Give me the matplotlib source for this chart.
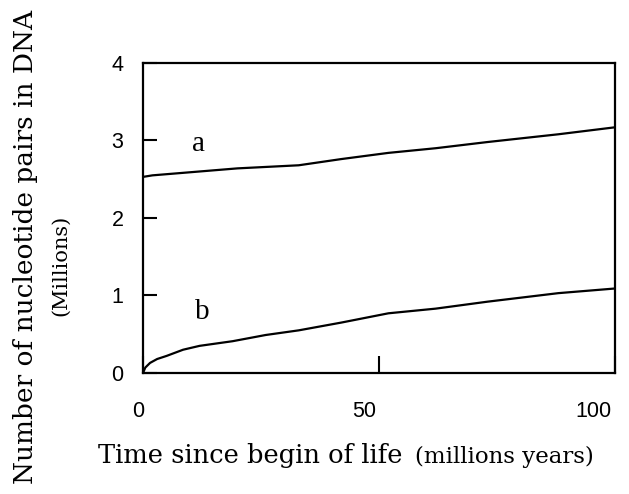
import numpy as np
import matplotlib.pyplot as plt
from matplotlib.transforms import ScaledTranslation

# values (millions of nucleotide pairs)
t_a = [0, 2, 10, 20, 33, 42, 52, 62, 73, 88, 100]
val_a = [2.53, 2.55, 2.59, 2.64, 2.68, 2.76, 2.84, 2.90, 2.98, 3.08, 3.17]

t_b = [0, 0.5, 1.5, 3, 5, 8.5, 12, 19, 26, 33, 42, 52, 62, 73, 88, 100]
val_b = [0, 0.07, 0.13, 0.18, 0.22, 0.30, 0.35, 0.41, 0.49, 0.55, 0.65, 0.77, 0.83, 0.92, 1.03, 1.09]

x_ticks = [0, 50, 100]
y_ticks = [0, 1, 2, 3, 4]

fig = plt.figure(figsize=(6.29, 4.94), dpi=100)
ax = fig.add_axes([0.2273, 0.245, 0.7504, 0.6275])

ax.plot(t_a, val_a, color='black', linewidth=1.6)
ax.plot(t_b, val_b, color='black', linewidth=1.6)

ax.text(11.8, 2.95, 'a', fontsize=21, family='Liberation Serif', ha='center', va='center')
ax.text(12.5, 0.79, 'b', fontsize=21, family='Liberation Serif', ha='center', va='center')

ax.set_xlim(0, 100)
ax.set_ylim(0, 4)
ax.set_xticks(x_ticks)
ax.set_yticks(y_ticks)
ax.set_xticklabels([str(v) for v in x_ticks], family='Liberation Sans', fontsize=15.5)
ax.set_yticklabels([str(v) for v in y_ticks], family='Liberation Sans', fontsize=15.5)
ax.tick_params(axis='x', direction='in', length=12, width=1.5, pad=20)
ax.tick_params(axis='y', direction='in', length=10, width=1.5, pad=14)

# the old chart puts its x labels a little left of the ticks
shifts = [-5, -15, -22]
for lab, dx in zip(ax.get_xticklabels(), shifts):
    lab.set_transform(lab.get_transform() + ScaledTranslation(dx / 100, 0, fig.dpi_scale_trans))

for s in ax.spines.values():
    s.set_linewidth(1.6)

fig.text(0.040, 0.50, 'Number of nucleotide pairs in DNA', rotation=90,
         family='DejaVu Serif', fontsize=19, ha='center', va='center')
fig.text(0.097, 0.463, '(Millions)', rotation=90,
         family='DejaVu Serif', fontsize=15, ha='center', va='center')
fig.text(0.156, 0.062, 'Time since begin of life', family='DejaVu Serif',
         fontsize=18.5, ha='left', va='baseline')
fig.text(0.660, 0.062, '(millions years)', family='DejaVu Serif',
         fontsize=16.5, ha='left', va='baseline')

fig.savefig('out.png')
